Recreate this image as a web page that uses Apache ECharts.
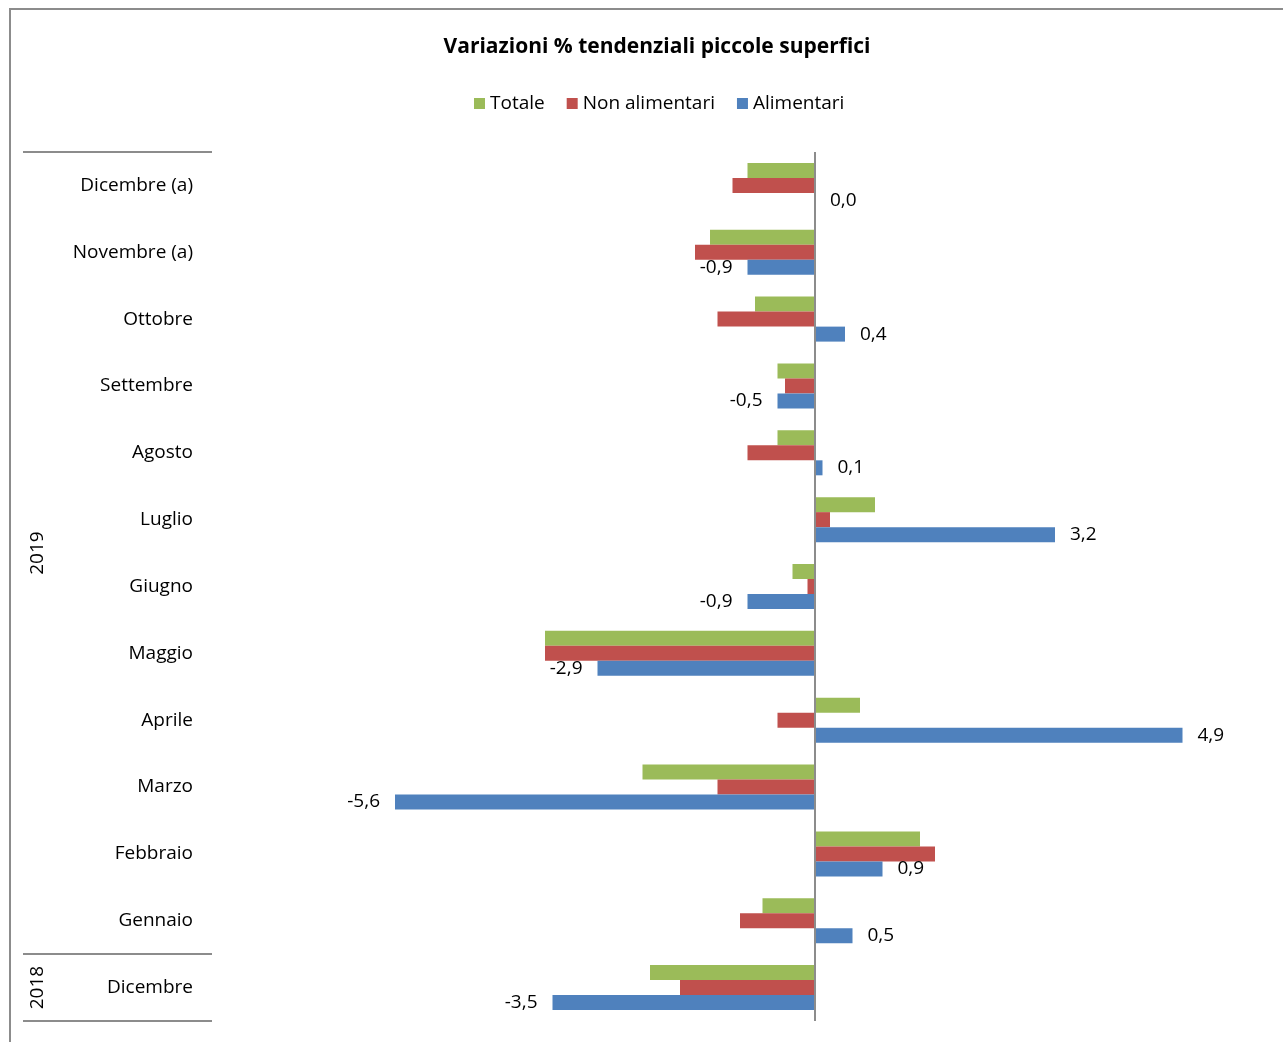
<!DOCTYPE html>
<html>
<head>
<meta charset="utf-8">
<script src="https://cdn.jsdelivr.net/npm/echarts@6/dist/echarts.min.js"></script>
<style>
  html, body { margin: 0; padding: 0; background: #fff; }
  #frame { position: absolute; left: 9px; top: 8px; width: 1300px; height: 1100px;
           border-left: 2px solid #8c8c8c; border-top: 2px solid #8c8c8c; }
  #chart { position: absolute; left: 0; top: 0; width: 1283px; height: 1042px; }
</style>
</head>
<body>
<div id="frame"></div>
<div id="chart"></div>
<script>
// Months, bottom (Dec 2018) to top (Dec 2019)
const categories = ['Dicembre', 'Gennaio', 'Febbraio', 'Marzo', 'Aprile', 'Maggio', 'Giugno',
  'Luglio', 'Agosto', 'Settembre', 'Ottobre', 'Novembre (a)', 'Dicembre (a)'];
// Year groups: label, first index, last index
const years = [['2018', 0, 0], ['2019', 1, 12]];

const alimentari    = [-3.5, 0.5, 0.9, -5.6, 4.9, -2.9, -0.9, 3.2, 0.1, -0.5, 0.4, -0.9, 0.0];
const nonAlimentari = [-1.8, -1.0, 1.6, -1.3, -0.5, -3.6, -0.1, 0.2, -0.9, -0.4, -1.3, -1.6, -1.1];
const totale        = [-2.2, -0.7, 1.4, -2.3, 0.6, -3.6, -0.3, 0.8, -0.5, -0.5, -0.8, -1.4, -0.9];

const FONT = '"Open Sans", "Noto Sans", sans-serif';
const FS = 19;
const fmt = v => v.toFixed(1).replace('.', ',');

const chart = echarts.init(document.getElementById('chart'), null, { renderer: 'canvas' });

const yearOf = v => {
  for (const [name, a, b] of years) {
    if (Math.abs(v - (a + b + 1) / 2) < 1e-6) return name;
  }
  return '';
};

chart.setOption({
  animation: false,
  textStyle: { fontFamily: FONT },
  title: {
    text: 'Variazioni % tendenziali piccole superfici',
    left: 652, top: 32, textAlign: 'center',
    textStyle: { fontFamily: FONT, fontSize: 21, fontWeight: 'bold', color: '#000' }
  },
  legend: {
    top: 89, left: 469,
    itemWidth: 11, itemHeight: 11, itemGap: 22,
    icon: 'rect',
    data: ['Totale', 'Non alimentari', 'Alimentari'],
    textStyle: { fontFamily: FONT, fontSize: FS, color: '#000', padding: [0, 0, 0, 0] }
  },
  grid: { left: 215, right: 18, top: 152, bottom: 21, containLabel: false },
  xAxis: {
    type: 'value', min: -8, max: 6, interval: 1,
    axisLine: { show: false }, axisTick: { show: false },
    axisLabel: { show: false }, splitLine: { show: false }
  },
  yAxis: [
    {
      type: 'category', data: categories,
      axisLine: { show: false }, axisTick: { show: false },
      axisLabel: { margin: 22, fontFamily: FONT, fontSize: FS, color: '#000' }
    },
    {
      type: 'value', min: 0, max: categories.length, interval: 0.5,
      position: 'left', offset: 160,
      axisLine: { show: false }, axisTick: { show: false }, splitLine: { show: false },
      axisLabel: {
        rotate: 90, margin: 8, fontFamily: FONT, fontSize: FS, color: '#000',
        formatter: v => yearOf(v)
      }
    }
  ],
  series: [
    {
      name: 'Totale', type: 'bar', barWidth: 15, barGap: '0%',
      itemStyle: { color: '#9BBB59' },
      data: totale,
      markLine: {
        silent: true, symbol: 'none', label: { show: false },
        lineStyle: { color: '#8c8c8c', width: 2, type: 'solid' },
        data: [{ xAxis: 0 }]
      }
    },
    {
      name: 'Non alimentari', type: 'bar', barWidth: 15, barGap: '0%',
      itemStyle: { color: '#C0504D' },
      data: nonAlimentari
    },
    {
      name: 'Alimentari', type: 'bar', barWidth: 15, barGap: '0%',
      itemStyle: { color: '#4F81BD' },
      data: alimentari.map(v => ({
        value: v,
        label: { show: true, position: v < 0 ? 'left' : 'right', distance: 15 }
      })),
      label: {
        fontFamily: FONT, fontSize: FS, color: '#000',
        formatter: p => fmt(p.value)
      }
    }
  ]
});

// Separator lines of the year grouping, at group boundaries on the year axis
const bounds = new Set();
years.forEach(([, a, b]) => { bounds.add(a); bounds.add(b + 1); });
const lines = [...bounds].map(v => {
  const y = Math.round(chart.convertToPixel({ yAxisIndex: 1 }, v));
  return {
    type: 'line',
    shape: { x1: 23, y1: y, x2: 212, y2: y },
    style: { stroke: '#8c8c8c', lineWidth: 2 },
    silent: true
  };
});
chart.setOption({ graphic: lines });
</script>
</body>
</html>
